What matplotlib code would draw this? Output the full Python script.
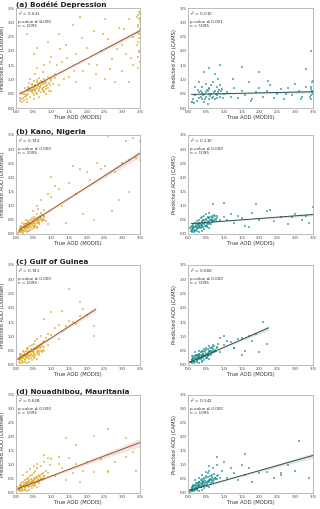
import matplotlib
matplotlib.use("Agg")
import matplotlib.pyplot as plt

# ---------------- data ----------------
titles = ["(a) Bodélé Depression", "(b) Kano, Nigeria", "(c) Gulf of Guinea", "(d) Nouadhibou, Mauritania"]
ylabel_left = "Predicted AOD (DustNet)"
ylabel_right = "Predicted AOD (CAMS)"
xlabel = "True AOD (MODIS)"
ticks = [0.0, 0.5, 1.0, 1.5, 2.0, 2.5, 3.0, 3.5]

stats_left = [("0.621", "0.000", "1095"), ("0.744", "0.000", "1095"), ("0.741", "0.000", "1095"), ("0.608", "0.000", "1095")]
stats_right = [("0.010", "0.001", "1095"), ("0.130", "0.000", "1095"), ("0.660", "0.000", "1095"), ("0.542", "0.000", "1095")]

# fitted regression lines: (x_start, x_end, intercept, slope)
fit_left = [(0.1, 3.5, 0.43, 0.65), (0.1, 3.5, 0.07, 0.795), (0.05, 2.25, 0.16, 0.795), (0.05, 3.5, 0.13, 0.478)]
fit_right = [(0.1, 3.5, 0.475, 0.027), (0.1, 3.5, 0.36, 0.094), (0.05, 2.25, 0.07, 0.545), (0.05, 3.5, 0.08, 0.36)]
# confidence band half widths at start, middle, end
band_left = [(0.05, 0.03, 0.08), (0.03, 0.04, 0.13), (0.03, 0.03, 0.10), (0.03, 0.05, 0.15)]
band_right = [(0.03, 0.02, 0.05), (0.02, 0.02, 0.05), (0.02, 0.03, 0.08), (0.02, 0.03, 0.09)]

cluster_x = [0.08,0.1,0.12,0.14,0.16,0.18,0.2,0.22,0.24,0.26,0.28,0.3,0.32,0.34,0.36,0.38,0.4,0.42,0.44,0.46,0.48,0.5,0.52,0.54,0.56,0.58,0.6,0.62,0.64,0.66,0.68,0.7,0.72,0.74,0.76,0.78,0.8,0.14,0.24,0.34,0.44,0.54,0.64,0.18,0.28,0.38,0.48,0.58,0.68,0.22,0.32,0.42,0.52,0.62]
cluster_y = [0.1,0.18,0.08,0.22,0.14,0.26,0.12,0.3,0.2,0.16,0.34,0.24,0.4,0.28,0.2,0.44,0.32,0.26,0.48,0.36,0.3,0.52,0.4,0.34,0.56,0.44,0.38,0.6,0.48,0.42,0.64,0.5,0.46,0.68,0.54,0.5,0.62,0.3,0.1,0.36,0.18,0.28,0.34,0.06,0.28,0.12,0.44,0.22,0.58,0.36,0.08,0.38,0.26,0.5]

# --- (a) Bodele, DustNet
a_l_x = [0.1,0.15,0.2,0.2,0.25,0.3,0.3,0.35,0.35,0.4,0.4,0.45,0.45,0.5,0.5,0.5,0.55,0.55,0.6,0.6,0.6,0.65,0.65,0.7,0.7,0.7,0.75,0.75,0.8,0.8,0.8,0.85,0.9,0.9,0.95,1.0,0.3,0.25,0.5,0.65,0.4,0.55,0.85,1.0,0.15,0.75,0.6,
         0.32,0.42,0.52,0.62,0.72,0.82,0.92,0.38,0.48,0.58,0.68,0.78,0.88,0.28,0.18,0.12,0.98,1.05,1.1,
         0.44,0.54,0.64,0.74,0.84,0.94,0.36,0.46,0.56,0.66,0.76,0.86,0.24,0.34,0.22,0.57,0.67,0.77,0.47,0.37,
         0.3,0.5,0.6,0.7,0.8,0.9,1.0,1.1,1.2,1.2,1.3,1.4,1.5,1.6,1.7,1.7,1.8,1.9,2.0,2.1,2.2,2.3,2.4,2.5,2.5,2.6,2.7,2.8,2.9,3.0,3.0,3.1,3.2,3.2,3.3,3.3,
         1.15,1.35,1.45,1.65,1.85,2.05,2.25,2.45,2.65,2.85,3.05,3.25,0.95,1.25,
         3.45,3.45,3.48,3.45,3.48,3.45,3.48,3.45,3.5,3.5,3.5,3.42,3.42,3.5,3.47,3.44,3.49,3.46,3.47,3.43]
a_l_y = [0.25,0.3,0.35,0.5,0.4,0.3,0.6,0.5,0.75,0.4,0.65,0.55,0.85,0.45,0.7,0.95,0.6,0.8,0.5,0.7,0.9,0.65,1.05,0.55,0.8,0.95,0.7,0.85,0.6,0.75,1.0,0.9,0.7,1.1,0.8,0.95,0.2,0.7,0.3,0.4,1.0,1.2,0.5,0.6,0.55,1.25,1.4,
         0.45,0.58,0.62,0.78,0.66,0.88,0.6,0.88,0.52,0.98,0.72,0.55,0.82,0.42,0.22,0.35,1.0,0.85,1.05,
         0.62,0.76,0.58,0.9,0.68,0.86,0.58,0.8,0.66,0.86,0.62,0.78,0.48,0.66,0.28,0.52,0.74,0.92,0.64,0.7,
         2.6,1.9,2.1,3.0,1.5,2.3,1.8,1.2,2.6,0.8,1.6,2.2,1.1,2.9,0.9,1.9,3.2,1.3,2.1,0.7,2.7,1.5,2.0,3.1,1.0,2.4,1.7,0.9,2.8,1.3,2.2,1.9,3.1,0.9,2.5,1.5,
         1.5,1.0,1.75,1.3,2.45,1.55,1.2,2.6,1.35,2.05,2.75,1.75,1.6,2.05,
         1.4,1.8,2.0,2.3,2.6,2.9,3.1,3.25,2.75,3.0,3.3,2.2,3.2,1.6,2.45,2.85,3.15,1.95,3.35,2.65]

# --- (a) Bodele, CAMS
a_r_x = [0.1,0.15,0.2,0.25,0.3,0.3,0.35,0.4,0.4,0.45,0.5,0.5,0.55,0.6,0.6,0.65,0.7,0.7,0.75,0.8,0.8,0.85,0.9,0.95,1.0,0.2,0.3,0.45,0.55,0.65,0.75,0.85,0.35,0.5,0.6,0.9,
         0.42,0.52,0.62,0.72,0.82,0.92,0.38,0.48,0.58,0.68,0.78,0.28,0.18,0.12,0.98,0.88,
         1.1,1.2,1.3,1.4,1.5,1.6,1.7,1.8,1.9,2.0,2.1,2.2,2.3,2.4,2.5,2.6,2.7,2.8,2.9,3.0,3.1,3.2,3.3,1.25,1.75,2.25,2.75,3.15,
         3.45,3.45,3.48,3.45,3.48,3.5,3.42,3.5,3.46,3.44,
         3.45,1.5,0.9,0.6,2.0,3.3,0.45,0.75]
a_r_y = [0.2,0.3,0.45,0.25,0.55,0.35,0.6,0.3,0.75,0.5,0.4,0.85,0.6,0.3,0.7,0.5,0.4,0.9,0.6,0.45,0.75,0.55,0.4,0.65,0.5,0.75,0.9,0.2,0.15,0.8,0.3,1.0,0.4,0.55,0.5,0.8,
         0.45,0.62,0.42,0.56,0.36,0.58,0.52,0.3,0.66,0.36,0.48,0.62,0.18,0.22,0.36,0.62,
         0.55,0.4,0.7,0.35,0.6,0.45,0.9,0.3,0.55,0.7,0.4,0.6,0.8,0.35,0.5,0.65,0.3,0.7,0.45,0.85,0.6,0.4,0.75,1.0,0.25,0.95,0.5,0.3,
         0.3,0.45,0.6,0.75,0.9,0.5,0.4,0.95,0.55,0.65,
         2.0,1.45,1.5,1.4,1.25,1.35,1.25,1.2]

# --- (b) Kano, DustNet
b_l_x = [0.05,0.08,0.1,0.12,0.15,0.15,0.2,0.2,0.22,0.25,0.25,0.28,0.3,0.3,0.32,0.35,0.35,0.38,0.4,0.4,0.42,0.45,0.45,0.5,0.5,0.55,0.55,0.6,0.6,0.65,0.7,0.7,0.75,0.8,0.1,0.2,0.3,0.4,0.5,0.6,0.18,0.27,0.48,0.62,0.85,0.9,
         0.6,0.7,0.8,0.9,1.0,1.1,1.2,1.3,1.5,1.6,1.7,1.8,2.0,2.1,2.3,2.4,2.5,2.6,2.7,2.8,3.0,3.1,3.2,3.3,3.4,3.5,3.5,1.0,1.4,1.9,2.2,2.9,3.2]
b_l_y = [0.05,0.1,0.15,0.08,0.2,0.12,0.25,0.15,0.3,0.2,0.35,0.25,0.18,0.4,0.3,0.25,0.45,0.35,0.3,0.5,0.4,0.35,0.55,0.4,0.6,0.45,0.3,0.5,0.7,0.4,0.55,0.75,0.5,0.6,0.25,0.05,0.1,0.15,0.2,0.25,0.4,0.5,0.8,0.9,0.45,0.35,
         1.0,1.2,0.85,1.4,1.3,1.7,1.6,1.0,1.8,2.4,1.4,2.3,2.2,1.9,2.5,2.3,2.4,3.45,0.8,2.2,2.5,3.3,2.6,3.4,2.7,3.3,2.6,2.0,0.4,0.7,0.5,1.2,1.5]

# --- (b) Kano, CAMS
b_r_x = [0.05,0.08,0.1,0.12,0.15,0.15,0.2,0.2,0.22,0.25,0.25,0.28,0.3,0.3,0.32,0.35,0.35,0.38,0.4,0.4,0.42,0.45,0.45,0.5,0.5,0.55,0.55,0.6,0.6,0.65,0.7,0.7,0.75,0.8,0.9,1.0,0.1,0.2,0.3,0.4,0.5,0.6,
         1.1,1.2,1.3,1.4,1.5,1.6,1.8,2.0,2.2,2.4,2.6,2.8,3.0,3.2,3.4,3.5,1.7,2.3,2.9,3.3,
         0.7,1.0,1.9]
b_r_y = [0.2,0.25,0.3,0.15,0.35,0.2,0.4,0.25,0.3,0.45,0.2,0.35,0.5,0.3,0.4,0.55,0.35,0.45,0.6,0.3,0.5,0.4,0.65,0.5,0.7,0.45,0.6,0.55,0.75,0.5,0.6,0.45,0.65,0.55,0.5,0.6,0.1,0.15,0.2,0.25,0.3,0.35,
         0.5,0.7,0.4,0.65,0.55,0.3,0.75,0.5,0.8,0.45,0.6,0.35,0.7,0.5,0.4,0.95,0.25,0.85,0.6,0.65,
         1.05,1.1,1.05]

# --- (c) Gulf of Guinea, DustNet
c_l_x = [0.05,0.08,0.1,0.12,0.15,0.15,0.2,0.2,0.22,0.25,0.25,0.28,0.3,0.3,0.32,0.35,0.35,0.38,0.4,0.4,0.42,0.45,0.45,0.5,0.5,0.55,0.55,0.6,0.6,0.65,0.7,0.7,0.75,0.8,0.1,0.2,0.3,0.4,0.5,0.6,0.85,0.9,
         0.9,1.0,1.1,1.2,1.3,1.4,1.5,1.6,1.7,1.8,1.9,2.0,2.2,1.0,1.5,1.8,0.8,1.2,2.2,1.3]
c_l_y = [0.2,0.25,0.3,0.2,0.3,0.4,0.35,0.25,0.45,0.3,0.4,0.5,0.35,0.45,0.55,0.4,0.6,0.5,0.45,0.65,0.55,0.5,0.7,0.6,0.75,0.55,0.85,0.65,0.9,0.7,0.75,1.0,0.8,0.85,0.4,0.5,0.6,0.3,0.45,0.55,0.95,0.7,
         1.1,1.05,1.3,1.4,1.2,1.35,1.55,1.5,1.45,1.7,1.95,1.75,1.35,1.85,2.65,2.2,1.6,0.9,1.0,1.9]

# --- (c) Gulf of Guinea, CAMS
c_r_x = [0.05,0.08,0.1,0.12,0.15,0.15,0.2,0.2,0.22,0.25,0.25,0.28,0.3,0.3,0.32,0.35,0.35,0.38,0.4,0.4,0.42,0.45,0.45,0.5,0.5,0.55,0.55,0.6,0.6,0.65,0.7,0.7,0.75,0.8,0.1,0.2,0.3,0.4,0.5,0.6,0.85,0.9,
         0.9,1.0,1.1,1.2,1.3,1.4,1.5,1.6,1.7,1.8,1.9,2.0,2.1,2.2,1.0,1.5,1.3]
c_r_y = [0.1,0.12,0.15,0.2,0.15,0.25,0.2,0.3,0.25,0.18,0.35,0.28,0.22,0.4,0.3,0.25,0.45,0.35,0.3,0.5,0.4,0.32,0.55,0.38,0.6,0.42,0.3,0.5,0.65,0.45,0.55,0.7,0.5,0.6,0.3,0.45,0.5,0.15,0.25,0.35,0.75,0.45,
         0.95,0.7,0.85,0.8,0.6,0.9,0.95,0.5,1.0,0.85,1.1,0.45,1.5,0.75,1.0,0.35,0.6]

# --- (d) Nouadhibou, DustNet
d_l_x = [0.05,0.05,0.08,0.1,0.1,0.12,0.15,0.15,0.2,0.2,0.22,0.25,0.25,0.28,0.3,0.3,0.32,0.35,0.35,0.38,0.4,0.4,0.42,0.45,0.45,0.5,0.5,0.55,0.55,0.6,0.6,0.65,0.7,0.7,0.75,0.8,0.8,0.85,0.9,0.2,0.3,0.4,0.5,0.6,
         0.95,1.0,1.1,1.2,1.3,1.4,1.5,1.6,1.7,1.8,1.9,2.0,2.2,2.4,2.6,2.6,2.8,3.1,3.3,3.4,1.4,1.7,2.2,2.6,3.1,1.2,0.8,0.9]
d_l_y = [0.1,0.2,0.15,0.25,0.12,0.3,0.2,0.35,0.25,0.4,0.3,0.2,0.45,0.35,0.3,0.5,0.4,0.25,0.55,0.45,0.35,0.6,0.5,0.4,0.65,0.45,0.7,0.5,0.8,0.55,0.9,0.6,0.5,0.95,0.7,0.6,1.1,0.8,0.7,0.65,0.75,0.85,0.95,1.05,
         1.0,1.2,0.6,1.05,0.9,0.45,1.25,0.7,1.05,0.4,0.8,1.1,0.75,1.2,0.8,0.75,1.1,1.3,1.45,0.8,1.95,1.7,2.05,2.3,1.95,1.3,1.35,1.25]

# --- (d) Nouadhibou, CAMS
d_r_x = [0.05,0.05,0.08,0.1,0.1,0.12,0.15,0.15,0.2,0.2,0.22,0.25,0.25,0.28,0.3,0.3,0.32,0.35,0.35,0.38,0.4,0.4,0.42,0.45,0.45,0.5,0.5,0.55,0.55,0.6,0.6,0.65,0.7,0.7,0.75,0.8,0.8,0.85,0.9,0.2,0.3,0.4,0.5,0.6,
         0.95,1.0,1.1,1.2,1.3,1.4,1.5,1.6,1.7,1.8,2.0,2.2,2.4,2.6,2.8,3.0,3.4,1.6,0.8,3.1,2.6]
d_r_y = [0.05,0.12,0.1,0.15,0.08,0.2,0.12,0.25,0.18,0.3,0.22,0.15,0.35,0.25,0.2,0.4,0.3,0.22,0.45,0.35,0.28,0.5,0.4,0.3,0.55,0.35,0.6,0.42,0.7,0.45,0.8,0.5,0.4,0.9,0.55,0.5,1.0,0.65,0.55,0.45,0.55,0.65,0.75,0.95,
         0.8,1.1,0.55,0.9,0.7,0.45,1.0,0.65,0.9,0.4,0.7,0.75,0.55,0.7,1.0,0.8,0.55,1.4,1.3,1.85,0.65]

left_x = [a_l_x, b_l_x, c_l_x, d_l_x]
left_y = [a_l_y, b_l_y, c_l_y, d_l_y]
right_x = [a_r_x, b_r_x, c_r_x, d_r_x]
right_y = [a_r_y, b_r_y, c_r_y, d_r_y]
# panels whose crowded corner also holds the shared cluster (a panels have their own)
use_cluster_left = [False, True, True, True]
use_cluster_right = [False, True, True, True]

# ---------------- style ----------------
left_pt = "#daa520"
left_line = "#a0522d"
right_pt = "#108a8a"
right_line = "#2f4f4f"
spine_col = "#b0b0b0"
text_col = "#333333"

fig = plt.figure(figsize=(3.2, 5.09), dpi=100)
W, H = 320.0, 509.0
rows_px = [(8, 108), (135, 234), (265, 365), (395, 493)]
col_px = [(16, 140), (188, 313)]


def draw(ax, xs, ys, extra, fit, band, stats, ptc, lc, ylab, title=None):
    if extra:
        ax.scatter(cluster_x, cluster_y, s=3, color=ptc, alpha=0.6, linewidths=0, marker="s")
    ax.scatter(xs, ys, s=3, color=ptc, alpha=0.6, linewidths=0, marker="s")
    x0, x1, b, m = fit
    xm = (x0 + x1) / 2
    bx = [x0, xm, x1]
    by = [b + m * x0, b + m * xm, b + m * x1]
    ax.fill_between(bx, [v - h for v, h in zip(by, band)], [v + h for v, h in zip(by, band)],
                    color=lc, alpha=0.15, linewidth=0)
    ax.plot([x0, x1], [by[0], by[2]], color=lc, lw=0.7)
    ax.set_xlim(0, 3.5)
    ax.set_ylim(0, 3.5)
    ax.set_xticks(ticks)
    ax.set_yticks(ticks)
    ax.set_xticklabels([f"{t:.1f}" for t in ticks])
    ax.set_yticklabels([f"{t:.1f}" for t in ticks])
    ax.tick_params(labelsize=3.2, length=0, pad=1.2, colors=text_col)
    for sp in ax.spines.values():
        sp.set_color(spine_col)
        sp.set_linewidth(0.6)
    ax.set_xlabel(xlabel, fontsize=3.8, labelpad=0.8, color=text_col)
    ax.set_ylabel(ylab, fontsize=3.8, labelpad=1.5, color=text_col)
    r2, p, n = stats
    ax.text(0.02, 0.985, f"r$^2$ = {r2}\np-value \u2264 {p}\nn = {n}", transform=ax.transAxes,
            fontsize=3.0, va="top", ha="left", color=text_col, linespacing=1.25)
    if title:
        ax.set_title(title, fontsize=5.2, fontweight="bold", loc="left", pad=1.0, color="#222222")


for i in range(4):
    top, bot = rows_px[i]
    for j in range(2):
        l, r = col_px[j]
        ax = fig.add_axes([l / W, 1 - bot / H, (r - l) / W, (bot - top) / H])
        if j == 0:
            draw(ax, left_x[i], left_y[i], use_cluster_left[i], fit_left[i], band_left[i], stats_left[i],
                 left_pt, left_line, ylabel_left, titles[i])
        else:
            draw(ax, right_x[i], right_y[i], use_cluster_right[i], fit_right[i], band_right[i], stats_right[i],
                 right_pt, right_line, ylabel_right)

fig.savefig("out.png", dpi=100)
